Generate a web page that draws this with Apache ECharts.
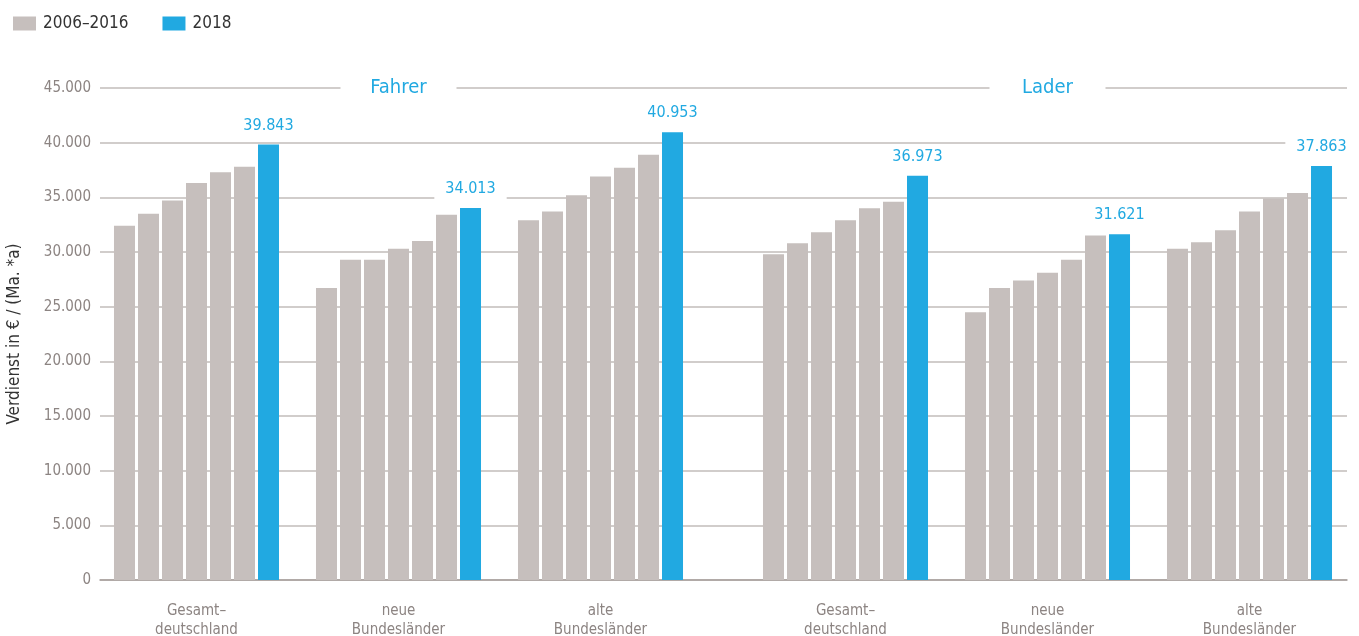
<!DOCTYPE html>
<html>
<head>
<meta charset="utf-8">
<script src="https://cdn.jsdelivr.net/npm/echarts@6/dist/echarts.min.js"></script>
<style>
  html, body { margin: 0; padding: 0; background: #fff; }
  #chart { width: 1359px; height: 636px; }
</style>
</head>
<body>
<div id="chart"></div>
<script>
// Regions shown under each occupation
const categories = ['Gesamt–\ndeutschland', 'neue\nBundesländer', 'alte\nBundesländer'];

// Annual earnings per region: six survey years 2006–2016, then 2018
const fahrerGesamt = [32400, 33500, 34700, 36300, 37300, 37800, 39843];
const fahrerNeue   = [26700, 29300, 29300, 30300, 31000, 33400, 34013];
const fahrerAlte   = [32900, 33700, 35200, 36900, 37700, 38900, 40953];
const laderGesamt  = [29800, 30800, 31800, 32900, 34000, 34600, 36973];
const laderNeue    = [24500, 26700, 27400, 28100, 29300, 31500, 31621];
const laderAlte    = [30300, 30900, 32000, 33700, 34900, 35400, 37863];

const seriesNames = ['2006–2016', '2006–2016', '2006–2016', '2006–2016', '2006–2016', '2006–2016', '2018'];
const yTicks = [0, 5000, 10000, 15000, 20000, 25000, 30000, 35000, 40000, 45000];

const GREY = '#c6bfbd';
const BLUE = '#21a9e1';
const TEXT_GREY = '#8c8482';
const FONT = '"Liberation Sans Narrow", "DejaVu Sans Condensed", "Noto Sans", sans-serif';

const fmt = v => String(Math.round(v)).replace(/\B(?=(\d{3})+(?!\d))/g, '.');

const TOP = 88, BOTTOM = 56;

function groupSeries(gridIdx, groups) {
  return seriesNames.map((name, i) => {
    const isNew = i === seriesNames.length - 1;
    return {
      type: 'bar',
      name: name,
      xAxisIndex: gridIdx,
      yAxisIndex: gridIdx,
      data: groups.map(g => g[i]),
      barWidth: 21,
      barGap: '14.3%',
      itemStyle: { color: isNew ? BLUE : GREY },
      z: 3,
      label: isNew ? {
        show: true,
        position: 'top',
        distance: 6,
        formatter: p => fmt(p.value),
        color: BLUE,
        fontFamily: FONT,
        fontSize: 16,
        backgroundColor: '#fff',
        padding: [4, 11, 5, 11]
      } : { show: false }
    };
  });
}

const chart = echarts.init(document.getElementById('chart'), null, { renderer: 'canvas' });

const hiddenY = {
  type: 'value', min: 0, max: 45000, interval: 5000,
  axisLine: { show: false }, axisTick: { show: false },
  axisLabel: { show: false }, splitLine: { show: false }
};

const catX = gridIndex => ({
  type: 'category',
  gridIndex: gridIndex,
  data: categories,
  axisLine: { show: false },
  axisTick: { show: false },
  axisLabel: {
    color: TEXT_GREY, fontFamily: FONT, fontSize: 15, lineHeight: 19, margin: 22
  }
});

// Section heading sitting on the top grid line, with a white gap around it
const heading = (text, cx) => ({
  type: 'group', x: cx, y: 88, z: 100,
  children: [
    { type: 'rect', z: 100, shape: { x: -58, y: -12, width: 116, height: 24 }, style: { fill: '#fff' } },
    {
      type: 'text', z: 101,
      style: {
        text: text, fill: BLUE, font: '20px ' + FONT,
        align: 'center', verticalAlign: 'middle'
      }
    }
  ]
});

chart.setOption({
  animation: false,
  backgroundColor: '#fff',
  textStyle: { fontFamily: FONT },
  legend: {
    left: 8, top: 10,
    itemWidth: 23, itemHeight: 14, itemGap: 34,
    icon: 'rect',
    textStyle: { color: '#333', fontFamily: FONT, fontSize: 17, padding: [0, 0, 0, 2] },
    data: ['2006–2016', '2018']
  },
  grid: [
    { left: 100, right: 12, top: TOP, bottom: BOTTOM, outerBoundsMode: 'none' },
    { left: 95.5, width: 606, top: TOP, bottom: BOTTOM, outerBoundsMode: 'none' },
    { left: 744.5, width: 606, top: TOP, bottom: BOTTOM, outerBoundsMode: 'none' }
  ],
  xAxis: [
    {
      type: 'value', gridIndex: 0, min: 0, max: 1,
      axisLine: { show: true, onZero: true, lineStyle: { color: '#a69e9c', width: 1.5 } },
      axisTick: { show: false }, axisLabel: { show: false }, splitLine: { show: false }
    },
    catX(1),
    catX(2)
  ],
  yAxis: [
    {
      type: 'value', gridIndex: 0, min: 0, max: 45000, interval: 5000,
      name: 'Verdienst in € / (Ma. *a)',
      nameLocation: 'middle',
      nameGap: 77,
      nameTextStyle: { color: '#333', fontFamily: FONT, fontSize: 17 },
      axisLine: { show: false },
      axisTick: { show: false },
      axisLabel: {
        color: TEXT_GREY, fontFamily: FONT, fontSize: 15, margin: 9,
        formatter: v => yTicks.includes(v) ? fmt(v) : ''
      },
      splitLine: { show: true, lineStyle: { color: '#c2bcba', width: 1.5 } }
    },
    Object.assign({ gridIndex: 1 }, hiddenY),
    Object.assign({ gridIndex: 2 }, hiddenY)
  ],
  graphic: [
    heading('Fahrer', 398.5),
    heading('Lader', 1047.5)
  ],
  series: [
    ...groupSeries(1, [fahrerGesamt, fahrerNeue, fahrerAlte]),
    ...groupSeries(2, [laderGesamt, laderNeue, laderAlte])
  ]
});
</script>
</body>
</html>
